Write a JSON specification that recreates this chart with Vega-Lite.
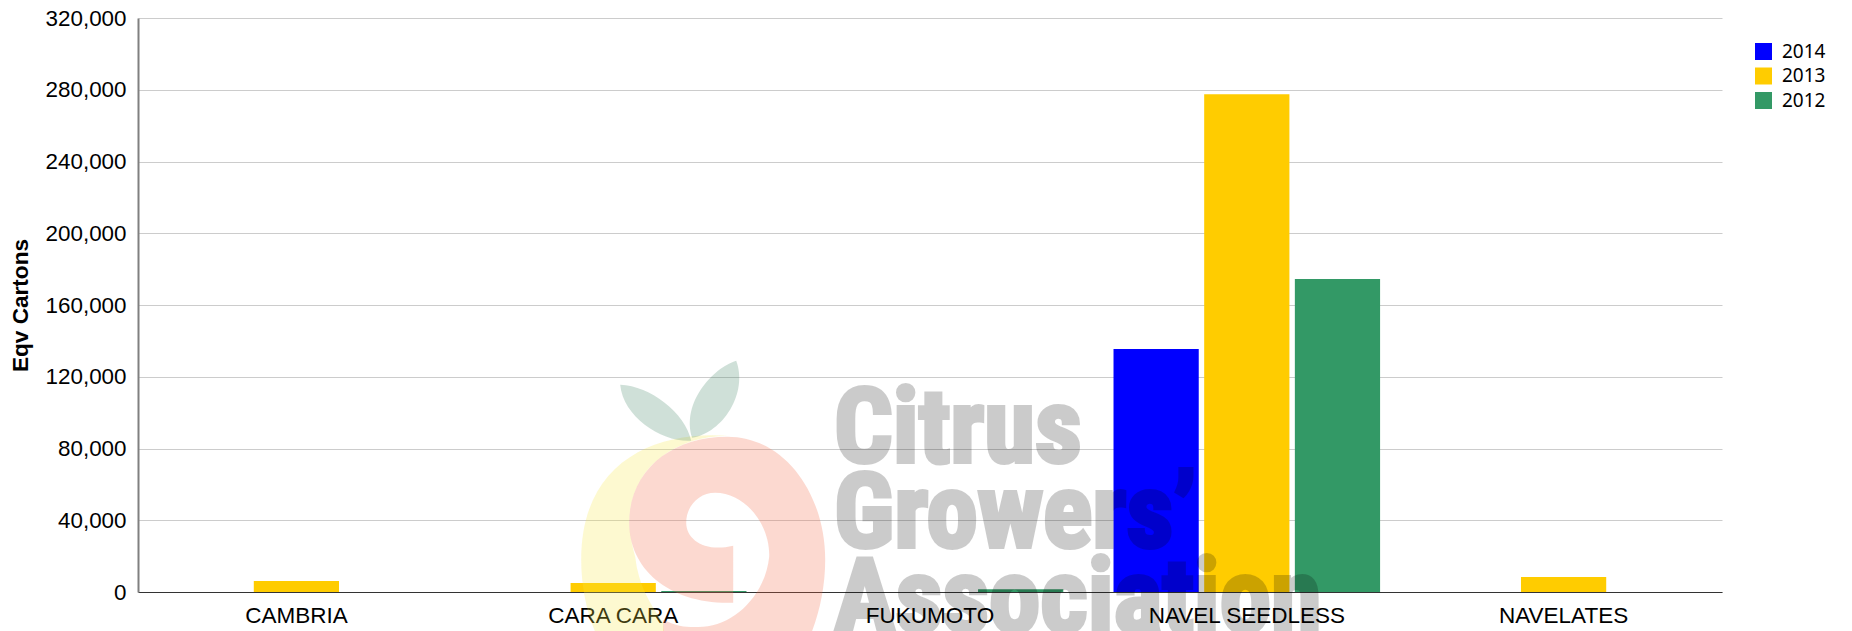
{"$schema":"https://vega.github.io/schema/vega-lite/v6.json","width":1584,"height":574,"autosize":{"type":"none"},"padding":{"left":138,"top":18,"right":130,"bottom":39},"background":"white","config":{"view":{"stroke":null}},"encoding":{"x":{"field":"variety","type":"nominal","title":null,"scale":{"domain":["CAMBRIA","CARA CARA","FUKUMOTO","NAVEL SEEDLESS","NAVELATES"],"paddingInner":0,"paddingOuter":0},"axis":{"labelAngle":0,"labelFont":"Liberation Sans","labelFontSize":22.5,"labelColor":"#000000","labelPadding":12,"labelLimit":400,"ticks":false,"grid":false,"domainColor":"#333333","domainWidth":1,"labelOverlap":false}},"y":{"field":"value","type":"quantitative","stack":null,"title":"Eqv Cartons","scale":{"domain":[0,320000],"nice":false},"axis":{"values":[0,40000,80000,120000,160000,200000,240000,280000,320000],"labelExpr":"format(datum.value, ',')","labelFont":"Liberation Sans","labelFontSize":22.4,"labelColor":"#000000","labelPadding":12,"ticks":false,"grid":true,"gridColor":"#cccccc","gridWidth":1,"domainColor":"#808080","domainWidth":2,"titleFont":"Liberation Sans","titleFontWeight":"bold","titleFontSize":22.6,"titleColor":"#000000","titlePadding":13}}},"layer":[{"data":{"values":[{"variety":"CAMBRIA","year":"2013","value":6100},{"variety":"CARA CARA","year":"2013","value":5000},{"variety":"CARA CARA","year":"2012","value":500},{"variety":"FUKUMOTO","year":"2012","value":1500},{"variety":"NAVEL SEEDLESS","year":"2014","value":135500},{"variety":"NAVEL SEEDLESS","year":"2013","value":277500},{"variety":"NAVEL SEEDLESS","year":"2012","value":174500},{"variety":"NAVELATES","year":"2013","value":8400}]},"mark":{"type":"bar"},"encoding":{"xOffset":{"field":"year","type":"nominal","scale":{"domain":["2014","2013","2012"],"paddingInner":0.06,"paddingOuter":0.277}},"color":{"field":"year","type":"nominal","scale":{"domain":["2014","2013","2012"],"range":["#0000ff","#ffcc00","#339966"]},"legend":{"title":null,"orient":"none","legendX":1616,"legendY":24,"symbolType":"square","symbolSize":289,"symbolStrokeWidth":0,"symbolOpacity":1,"labelFont":"Noto Sans","labelFontSize":19,"labelColor":"#000000","labelOffset":9,"rowPadding":4.5,"columns":1}}}},{"data":{"values":[{"variety":"CARA CARA","value":100000,"part":"yellow"}]},"mark":{"type":"point","filled":true,"size":4,"color":"#f7e743","opacity":0.25,"strokeWidth":0,"shape":"M114,23 C40,18 -32,50 -32,147 C-32,177 -25,207 -13,230 L52,230 L50,210 C37,192 25,172 22,144 C19,133 16,120 16,110 C16,57 59,24 114,23 Z"}},{"data":{"values":[{"variety":"CARA CARA","value":100000,"part":"pink"}]},"mark":{"type":"point","filled":true,"size":4,"color":"#f36743","opacity":0.25,"strokeWidth":0,"shape":"M50,207 C67,215 77,215 90,214 C122,212 152,182 156,144 C157,112 132,80 102,80 C85,80 73,94 73,110 C73,127 92,140 120,133 L120,190 C57,192 16,157 16,110 C16,57 59,24 114,24 C172,24 212,82 212,147 C212,172 207,197 199,218 L199,260 L50,260 Z"}},{"data":{"values":[{"variety":"CARA CARA","value":100000,"part":"leaves"}]},"mark":{"type":"point","filled":true,"size":4,"color":"#3f8363","opacity":0.25,"strokeWidth":0,"shape":"M7,-28 C37,-27 72,0 78,28 C50,30 10,5 7,-28 Z M123,-52 C100,-45 68,-10 79,25 C110,20 135,-20 123,-52 Z"}},{"data":{"values":[{"variety":"FUKUMOTO","value":72500,"label":"Citrus"},{"variety":"FUKUMOTO","value":25100,"label":"Growers’"},{"variety":"FUKUMOTO","value":-22300,"label":"Association"}]},"mark":{"type":"text","align":"left","baseline":"alphabetic","dx":-96,"font":"'Roboto Condensed','Open Sans Condensed','Noto Sans Condensed','DejaVu Sans Condensed','Liberation Sans'","fontWeight":"bold","fontSize":103,"color":"#000000","stroke":"#000000","strokeWidth":4,"opacity":0.2},"encoding":{"text":{"field":"label","type":"nominal"}}}]}
